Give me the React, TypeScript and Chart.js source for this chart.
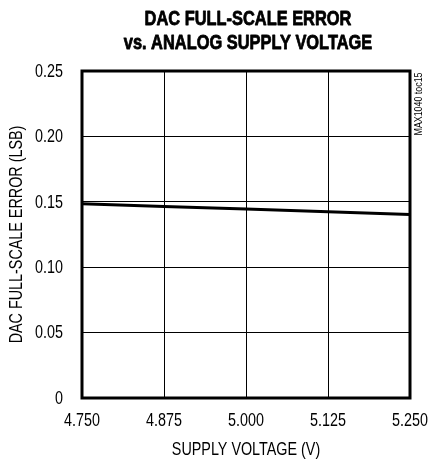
import React, { useEffect, useRef } from "react";
import { Chart, registerables } from "chart.js";

Chart.register(...registerables);

const supplyVoltage = [4.75, 4.875, 5.0, 5.125, 5.25];
const fullScaleError = [0.1485, 0.1465, 0.1445, 0.1423, 0.1402];
const xTickValues = [4.75, 4.875, 5.0, 5.125, 5.25];
const yTickValues = [0, 0.05, 0.1, 0.15, 0.2, 0.25];
const titleLines = ["DAC FULL-SCALE ERROR", "vs. ANALOG SUPPLY VOLTAGE"];
const xTitle = "SUPPLY VOLTAGE (V)";
const yTitle = "DAC FULL-SCALE ERROR (LSB)";
const sideNote = "MAX1040 toc15";

const FONT = "'Liberation Sans', Arial, sans-serif";
const NARROW = 0.82;

function drawText(
  ctx: CanvasRenderingContext2D,
  text: string,
  x: number,
  y: number,
  font: string,
  align: CanvasTextAlign,
  rotation = 0,
  sx = NARROW,
  stroke = 0
) {
  ctx.save();
  ctx.font = font;
  ctx.fillStyle = "#000";
  ctx.strokeStyle = "#000";
  ctx.textAlign = align;
  ctx.textBaseline = "middle";
  ctx.translate(x, y);
  if (rotation) ctx.rotate(rotation);
  ctx.scale(sx, 1);
  ctx.fillText(text, 0, 0);
  if (stroke) {
    ctx.lineWidth = stroke;
    ctx.lineJoin = "round";
    ctx.strokeText(text, 0, 0);
  }
  ctx.restore();
}

const decorPlugin = {
  id: "decor",
  afterDatasetsDraw(chart: any) {
    const { ctx, chartArea } = chart;
    const { left, right, top, bottom } = chartArea;
    ctx.save();
    ctx.strokeStyle = "#000";
    ctx.lineWidth = 3;
    ctx.strokeRect(left, top, right - left, bottom - top);
    ctx.restore();
  },
  afterDraw(chart: any) {
    const { ctx, chartArea, scales } = chart;
    const { left, right, top, bottom } = chartArea;
    const cx = (left + right) / 2 + 2;
    // Title
    drawText(ctx, titleLines[0], cx, 19, `bold 20.5px ${FONT}`, "center", 0, 0.8, 0.8);
    drawText(ctx, titleLines[1], cx, 43, `bold 20.5px ${FONT}`, "center", 0, 0.8, 0.8);
    // Tick labels
    const tickFont = `17.5px ${FONT}`;
    xTickValues.forEach((v) => {
      drawText(ctx, v.toFixed(3), scales.x.getPixelForValue(v), bottom + 23, tickFont, "center");
    });
    yTickValues.forEach((v) => {
      const label = v === 0 ? "0" : v.toFixed(2);
      drawText(ctx, label, left - 19, scales.y.getPixelForValue(v) + 1, tickFont, "right");
    });
    // Axis titles
    drawText(ctx, xTitle, (left + right) / 2, 450, `17.5px ${FONT}`, "center");
    drawText(ctx, yTitle, 17, (top + bottom) / 2, `17.5px ${FONT}`, "center", -Math.PI / 2);
    // Side note
    drawText(ctx, sideNote, right + 9, 104, `10.8px ${FONT}`, "center", -Math.PI / 2);
  },
};

export default function App() {
  const ref = useRef<HTMLCanvasElement>(null);
  useEffect(() => {
    if (!ref.current) return;
    const chart = new Chart(ref.current, {
      type: "line",
      data: {
        datasets: [
          {
            data: supplyVoltage.map((x, i) => ({ x, y: fullScaleError[i] })),
            borderColor: "#000",
            borderWidth: 3,
            pointRadius: 0,
            fill: false,
            tension: 0,
          },
        ],
      },
      options: {
        animation: false,
        responsive: false,
        maintainAspectRatio: false,
        layout: { padding: { top: 71, right: 32, left: 0, bottom: 0 } },
        plugins: { legend: { display: false }, tooltip: { enabled: false } },
        scales: {
          x: {
            type: "linear",
            min: 4.75,
            max: 5.25,
            afterFit: (s: any) => { s.height = 62; },
            afterBuildTicks: (s: any) => { s.ticks = xTickValues.map((v) => ({ value: v })); },
            ticks: { display: false },
            grid: { color: "#000", lineWidth: 1, drawTicks: false },
            border: { display: false },
            title: { display: false },
          },
          y: {
            type: "linear",
            min: 0,
            max: 0.25,
            afterFit: (s: any) => { s.width = 82; },
            afterBuildTicks: (s: any) => { s.ticks = yTickValues.map((v) => ({ value: v })); },
            ticks: { display: false },
            grid: { color: "#000", lineWidth: 1, drawTicks: false },
            border: { display: false },
            title: { display: false },
          },
        },
      },
      plugins: [decorPlugin],
    });
    return () => chart.destroy();
  }, []);
  return (
    <div style={{ position: "absolute", left: 0, top: 0, width: 442, height: 460, background: "#fff" }}>
      <canvas ref={ref} width={442} height={460} style={{ width: 442, height: 460 }} />
    </div>
  );
}
